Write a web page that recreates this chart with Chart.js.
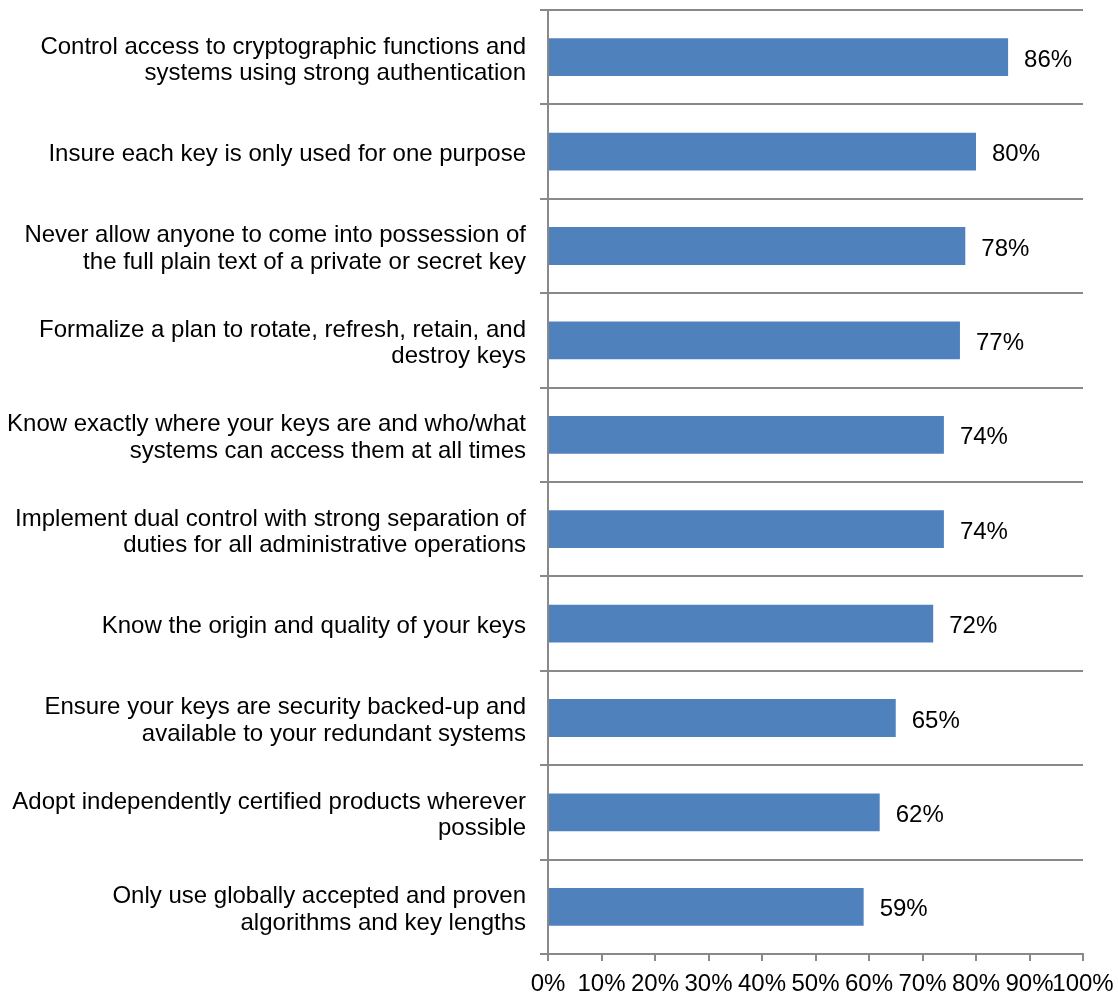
<!DOCTYPE html>
<html>
<head>
<meta charset="utf-8">
<script src="https://cdn.jsdelivr.net/npm/chart.js@4/dist/chart.umd.min.js"></script>
<style>
  html, body { margin: 0; padding: 0; background: #fff; }
  #wrap { width: 1118px; height: 994px; position: relative; }
</style>
</head>
<body>
<div id="wrap"><canvas id="c"></canvas></div>
<script>
// Key management practices, share of respondents
const practices = [
  ["Control access to cryptographic functions and", "systems using strong authentication"],
  "Insure each key is only used for one purpose",
  ["Never allow anyone to come into possession of", "the full plain text of a private or secret key"],
  ["Formalize a plan to rotate, refresh, retain, and", "destroy keys"],
  ["Know exactly where your keys are and who/what", "systems can access them at all times"],
  ["Implement dual control with strong separation of", "duties for all administrative operations"],
  "Know the origin and quality of your keys",
  ["Ensure your keys are security backed-up and", "available to your redundant systems"],
  ["Adopt independently certified products wherever", "possible"],
  ["Only use globally accepted and proven", "algorithms and key lengths"]
];
const shares = [86, 80, 78, 77, 74, 74, 72, 65, 62, 59];
const percentTicks = [0, 10, 20, 30, 40, 50, 60, 70, 80, 90, 100];

const FONT = "'Liberation Sans', Arial, sans-serif";
const FONT_SIZE = 24;
const GRID = '#898989';
const BAR = '#4F81BD';

// Writes each bar's value just past its end
const valueLabels = {
  id: 'valueLabels',
  afterDatasetsDraw(chart) {
    const ctx = chart.ctx;
    const meta = chart.getDatasetMeta(0);
    ctx.save();
    ctx.font = FONT_SIZE + 'px ' + FONT;
    ctx.fillStyle = '#000';
    ctx.textAlign = 'left';
    ctx.textBaseline = 'middle';
    meta.data.forEach((bar, i) => {
      ctx.fillText(shares[i] + '%', bar.x + 16, bar.y + 3);
    });
    ctx.restore();
  }
};

// Keep the plot area fixed: no extra room for overhanging tick labels
function noOverhang(axis) {
  axis.paddingTop = 0;
  axis.paddingBottom = 0;
  axis.paddingLeft = 0;
  axis.paddingRight = 0;
}

new Chart(document.getElementById('c'), {
  type: 'bar',
  data: {
    labels: practices,
    datasets: [{
      data: shares,
      backgroundColor: BAR,
      borderWidth: 0,
      barPercentage: 0.4,
      categoryPercentage: 1.0
    }]
  },
  options: {
    indexAxis: 'y',
    responsive: true,
    maintainAspectRatio: false,
    animation: false,
    layout: { padding: { top: 10, right: 35, left: 0, bottom: 0 } },
    plugins: {
      legend: { display: false },
      tooltip: { enabled: false }
    },
    scales: {
      x: {
        min: 0,
        max: 100,
        afterBuildTicks(axis) {
          axis.ticks = percentTicks.map(v => ({ value: v }));
        },
        afterFit(axis) { axis.height = 40; noOverhang(axis); },
        grid: {
          drawOnChartArea: false,
          drawTicks: true,
          tickLength: 7,
          color: GRID,
          lineWidth: 2
        },
        border: { display: true, color: GRID, width: 2 },
        ticks: {
          padding: 9,
          color: '#000',
          font: { family: FONT, size: FONT_SIZE },
          maxRotation: 0,
          autoSkip: false,
          callback: v => v + '%'
        }
      },
      y: {
        afterFit(axis) { axis.width = 548; noOverhang(axis); },
        grid: {
          offset: true,
          drawOnChartArea: true,
          drawTicks: true,
          tickLength: 8,
          color: GRID,
          lineWidth: 2
        },
        border: { display: true, color: GRID, width: 2 },
        ticks: {
          padding: 14,
          labelOffset: 3,
          color: '#000',
          font: { family: FONT, size: FONT_SIZE, lineHeight: 1.1 },
          autoSkip: false
        }
      }
    }
  },
  plugins: [valueLabels]
});
</script>
</body>
</html>
